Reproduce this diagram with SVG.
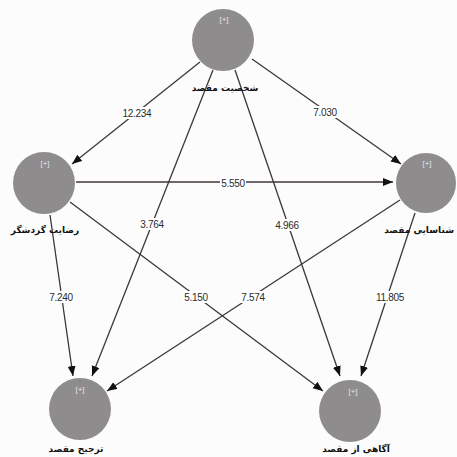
<svg xmlns="http://www.w3.org/2000/svg" width="457" height="457" viewBox="0 0 457 457">
<style>
.node{fill:#8e8c8c}
.plus{font-family:"Liberation Sans",sans-serif;font-size:8px;fill:#e6e6e6;text-anchor:middle}
.name{font-family:"DejaVu Sans","Noto Sans",sans-serif;font-size:9px;font-weight:bold;fill:#111;text-anchor:middle}
.edge{stroke:#3f3737;stroke-width:1.3;fill:none;marker-end:url(#ah)}
.lbg{fill:#ffffff}
.lbl{font-family:"Liberation Sans",sans-serif;font-size:10px;fill:#2a2a2a;text-anchor:middle;letter-spacing:-0.3px}
</style>
<defs>
<marker id="ah" markerUnits="userSpaceOnUse" markerWidth="11" markerHeight="9" refX="10" refY="4" orient="auto">
<path d="M0,0 L10,4 L0,8 z" fill="#111"/>
</marker>
</defs>
<rect width="457" height="457" fill="#fcfcfc"/>
<g id="connectors">
<line class="edge" x1="200" y1="62" x2="72" y2="164"/>
<line class="edge" x1="252" y1="59" x2="401" y2="164"/>
<line class="edge" x1="76" y1="182" x2="393" y2="182"/>
<line class="edge" x1="213" y1="70" x2="92" y2="376"/>
<line class="edge" x1="235" y1="70" x2="340" y2="376"/>
<line class="edge" x1="50" y1="215" x2="73" y2="376"/>
<line class="edge" x1="70" y1="202" x2="323" y2="391"/>
<line class="edge" x1="400" y1="200" x2="107" y2="391"/>
<line class="edge" x1="415" y1="213" x2="361" y2="376"/>
<g id="edge-labels">
<rect class="lbg" x="122" y="107" width="30" height="12"/><text class="lbl" x="137" y="117">12.234</text>
<rect class="lbg" x="312" y="106" width="26" height="12"/><text class="lbl" x="325" y="116">7.030</text>
<rect class="lbg" x="220" y="177" width="26" height="12"/><text class="lbl" x="233" y="187">5.550</text>
<rect class="lbg" x="139" y="218" width="26" height="12"/><text class="lbl" x="152" y="228">3.764</text>
<rect class="lbg" x="274" y="219" width="26" height="12"/><text class="lbl" x="287" y="229">4.966</text>
<rect class="lbg" x="48" y="291" width="26" height="12"/><text class="lbl" x="61" y="301">7.240</text>
<rect class="lbg" x="183" y="291" width="26" height="12"/><text class="lbl" x="196" y="301">5.150</text>
<rect class="lbg" x="240" y="291" width="26" height="12"/><text class="lbl" x="253" y="301">7.574</text>
<rect class="lbg" x="375" y="291" width="30" height="12"/><text class="lbl" x="390" y="301">11.805</text>
</g>
</g>
<g id="node-top">
<circle class="node" cx="223" cy="40" r="31"/>
<text class="plus" x="224" y="22">[+]</text>
<text class="name" x="225" y="91">شخصیت مقصد</text>
</g>
<g id="node-left">
<circle class="node" cx="44" cy="183" r="31"/>
<text class="plus" x="45" y="166">[+]</text>
<text class="name" x="45" y="233">رضایت گردشگر</text>
</g>
<g id="node-right">
<circle class="node" cx="426" cy="183" r="30"/>
<text class="plus" x="427" y="166">[+]</text>
<text class="name" x="454" y="233" style="text-anchor:end">شناسایی مقصد</text>
</g>
<g id="node-bottom-left">
<circle class="node" cx="80" cy="409" r="31"/>
<text class="plus" x="80" y="392">[+]</text>
<text class="name" x="76" y="452">ترجیح مقصد</text>
</g>
<g id="node-bottom-right">
<circle class="node" cx="350" cy="411" r="31"/>
<text class="plus" x="353" y="394">[+]</text>
<text class="name" x="356" y="452">آگاهی از مقصد</text>
</g>
</svg>
